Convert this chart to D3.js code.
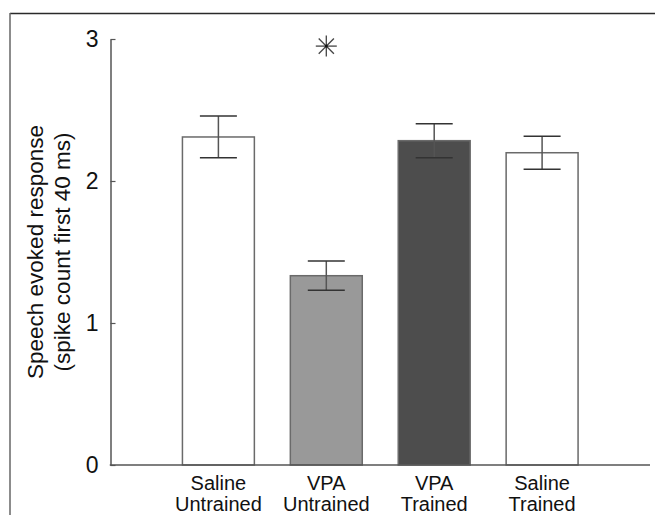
<!DOCTYPE html>
<html>
<head>
<meta charset="utf-8">
<script src="https://cdn.jsdelivr.net/npm/d3@7/dist/d3.min.js"></script>
<style>
  html, body { margin: 0; padding: 0; background: #fff; }
  svg { display: block; font-family: "Liberation Sans", Arial, Helvetica, sans-serif; }
</style>
</head>
<body>
<script>
// ---- Data ----
const labelLine1 = ["Saline", "VPA", "VPA", "Saline"];
const labelLine2 = ["Untrained", "Untrained", "Trained", "Trained"];
const means = [2.31, 1.333, 2.284, 2.199];
const sems = [0.147, 0.103, 0.12, 0.117];
const barFills = ["#ffffff", "#999999", "#4d4d4d", "#ffffff"];
const yTicks = [0, 1, 2, 3];
const yTickLabels = ["0", "1", "2", "3"];
const sigMarkerGroup = 1;      // asterisk above VPA Untrained
const sigMarkerValue = 2.95;
const yLabelLines = ["Speech evoked response", "(spike count first 40 ms)"];

// ---- Layout ----
const W = 655, H = 515;
const svg = d3.select("body").append("svg").attr("width", W).attr("height", H);

const x = d3.scaleLinear().domain([0, means.length + 1]).range([110.5, 650]);
const y = d3.scaleLinear().domain([0, 3]).range([465, 39]);
const step = x(1) - x(0);
const barW = step * 2 / 3;

// outer frame (top and left edges visible)
svg.append("line").attr("x1", 10).attr("x2", W).attr("y1", 13.5).attr("y2", 13.5)
  .attr("stroke", "#2a2a2a").attr("stroke-width", 1.5);
svg.append("line").attr("x1", 10).attr("x2", 10).attr("y1", 13).attr("y2", H)
  .attr("stroke", "#666").attr("stroke-width", 1.5);

// bars
const g = svg.append("g");
g.selectAll("rect.bar").data(means).enter().append("rect")
  .attr("class", "bar")
  .attr("x", (d, i) => x(i + 1) - barW / 2)
  .attr("y", d => y(d))
  .attr("width", barW)
  .attr("height", d => y(0) - y(d))
  .attr("fill", (d, i) => barFills[i])
  .attr("stroke", "#6a6a6a")
  .attr("stroke-width", 1.5);

// error bars
const capW = 37;
means.forEach((m, i) => {
  const cx = x(i + 1);
  g.append("line").attr("x1", cx).attr("x2", cx)
    .attr("y1", y(m + sems[i])).attr("y2", y(m - sems[i]))
    .attr("stroke", "#555").attr("stroke-width", 1.5);
  [m + sems[i], m - sems[i]].forEach(v => {
    g.append("line").attr("x1", cx - capW / 2).attr("x2", cx + capW / 2)
      .attr("y1", y(v)).attr("y2", y(v))
      .attr("stroke", "#333").attr("stroke-width", 1.5);
  });
});

// axes
const yAxis = d3.axisLeft(y).tickValues(yTicks).tickFormat((d, i) => yTickLabels[i])
  .tickSizeInner(-5).tickSizeOuter(0).tickPadding(12);
const ya = svg.append("g").attr("transform", `translate(${x(0)},0)`).call(yAxis);
ya.select(".domain").attr("stroke", "#555").attr("stroke-width", 1.5);
ya.selectAll(".tick line").attr("stroke", "#555").attr("stroke-width", 1.2);
ya.selectAll(".tick text").attr("font-size", 23).attr("fill", "#111")
  .attr("font-family", "Liberation Sans, Arial, sans-serif");

svg.append("line").attr("x1", x(0) - 0.75).attr("x2", x(means.length + 1))
  .attr("y1", y(0)).attr("y2", y(0))
  .attr("stroke", "#555").attr("stroke-width", 1.5);

// x category labels
const xl = svg.append("g");
means.forEach((m, i) => {
  const t = xl.append("text").attr("x", x(i + 1)).attr("text-anchor", "middle")
    .attr("font-size", 20).attr("fill", "#111");
  t.append("tspan").attr("x", x(i + 1)).attr("y", 490).text(labelLine1[i]);
  t.append("tspan").attr("x", x(i + 1)).attr("y", 511).text(labelLine2[i]);
});

// y label
const yc = (y(0) + y(3)) / 2;
const yl = svg.append("text").attr("transform", `translate(0,${yc}) rotate(-90)`)
  .attr("text-anchor", "middle").attr("font-size", 22.5).attr("fill", "#111");
yl.append("tspan").attr("x", 0).attr("y", 43).text(yLabelLines[0]);
yl.append("tspan").attr("x", 0).attr("y", 69.5).text(yLabelLines[1]);

// significance asterisk
const ax = x(sigMarkerGroup + 1), ay = y(sigMarkerValue);
const r = 10.5, rd = 7.6;
const star = svg.append("g").attr("stroke", "#444").attr("stroke-width", 1.3);
[[-r, 0, r, 0], [0, -r, 0, r], [-rd, -rd, rd, rd], [-rd, rd, rd, -rd]].forEach(s => {
  star.append("line").attr("x1", ax + s[0]).attr("y1", ay + s[1])
    .attr("x2", ax + s[2]).attr("y2", ay + s[3]);
});
svg.append("circle").attr("cx", ax).attr("cy", ay).attr("r", 1.5).attr("fill", "#111");
</script>
</body>
</html>
